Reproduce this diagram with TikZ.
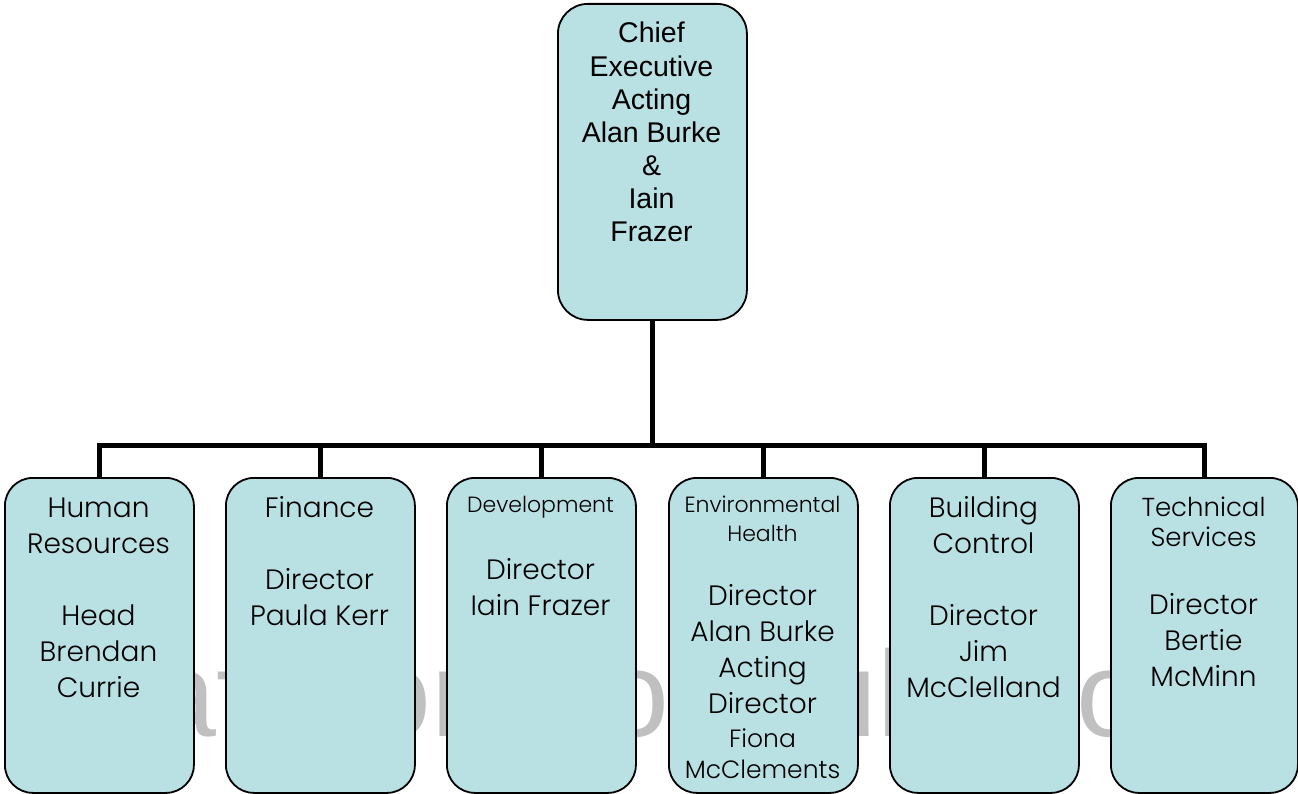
\documentclass[tikz,border=0pt]{standalone}
\usepackage{fontspec}
\setmainfont{Poppins Light}
\newfontfamily\arialf{Liberation Sans}
\definecolor{boxfill}{RGB}{185,224,227}
\definecolor{wmgrey}{RGB}{192,192,192}
\tikzset{
  orgbox/.style={draw=black,line width=1.8pt,fill=boxfill,rounded corners=28pt,
    minimum width=189pt,minimum height=315pt,inner sep=0pt,anchor=north west},
  conn/.style={draw=black,line width=5pt},
  tl/.style={anchor=base,inner sep=0pt},
  wm/.style={anchor=base west,inner sep=0pt,text=wmgrey,font=\arialf\fontsize{122}{122}\selectfont},
}
\newcommand{\bigf}{\fontsize{28}{34}\selectfont}
\newcommand{\smallf}{\fontsize{22}{29}\selectfont}
\newcommand{\medf}{\fontsize{26}{31}\selectfont}
\newcommand{\fionaf}{\fontsize{25}{31}\selectfont}
\newcommand{\ceof}{\arialf\fontsize{28.5}{34}\selectfont}
\begin{document}
\begin{tikzpicture}[x=1pt,y=-1pt]
\useasboundingbox (0,0) rectangle (1298,794);
% watermark fragments
\node[wm] (wm1) at (148,736) {at};
\node[wm] (wm2) at (363,736) {on};
\node[wm] (wm3) at (601,736) {o};
\node[wm] (wm4) at (809,736) {ul};
\node[wm] (wm5) at (1076,736) {o};
% boxes
\node[orgbox,minimum height=316pt,rounded corners=30pt] (ceo) at (557,3) {};
\node[orgbox] (hr)   at (4,477) {};
\node[orgbox] (fin)  at (225,477) {};
\node[orgbox] (dev)  at (446,477) {};
\node[orgbox] (env)  at (668,477) {};
\node[orgbox] (bc)   at (889,477) {};
\node[orgbox,minimum width=187pt] (tech) at (1110,477) {};
% connectors
\coordinate (bus) at ([yshift=-125pt]ceo.south);
\draw[conn] (ceo.south) -- (bus);
\draw[conn] (bus) -| (hr.north);
\draw[conn] (bus) -| (fin.north);
\draw[conn] (bus) -| (dev.north);
\draw[conn] (bus) -| (env.north);
\draw[conn] (bus) -| (bc.north);
\draw[conn] (bus) -| (tech.north);
% CEO text
\node[tl,font=\ceof] (c1) at (651.5,43) {Chief};
\node[tl,font=\ceof] (c2) at (651.5,77) {Executive};
\node[tl,font=\ceof] (c3) at (651.5,110) {Acting};
\node[tl,font=\ceof] (c4) at (651.5,143) {Alan Burke};
\node[tl,font=\ceof] (c5) at (651.5,176) {\&};
\node[tl,font=\ceof] (c6) at (651.5,209) {Iain};
\node[tl,font=\ceof] (c7) at (651.5,242) {Frazer};
% HR
\node[tl,font=\bigf] (h1) at (98.5,517) {Human};
\node[tl,font=\bigf] (h2) at (98.5,553) {Resources};
\node[tl,font=\bigf] (h3) at (98.5,625) {Head};
\node[tl,font=\bigf] (h4) at (98.5,661) {Brendan};
\node[tl,font=\bigf] (h5) at (98.5,697) {Currie};
% Finance
\node[tl,font=\bigf] (f1) at (319.5,517) {Finance};
\node[tl,font=\bigf] (f2) at (319.5,589) {Director};
\node[tl,font=\bigf] (f3) at (319.5,625) {Paula Kerr};
% Development
\node[tl,font=\smallf] (d1) at (540.5,512) {Development};
\node[tl,font=\bigf] (d2) at (540.5,579) {Director};
\node[tl,font=\bigf] (d3) at (540.5,615) {Iain Frazer};
% Environmental Health
\node[tl,font=\smallf] (e1) at (762.5,512) {Environmental};
\node[tl,font=\smallf] (e2) at (762.5,541) {Health};
\node[tl,font=\bigf] (e3) at (762.5,605) {Director};
\node[tl,font=\bigf] (e4) at (762.5,641) {Alan Burke};
\node[tl,font=\bigf] (e5) at (762.5,677) {Acting};
\node[tl,font=\bigf] (e6) at (762.5,713) {Director};
\node[tl,font=\fionaf] (e7) at (762.5,747) {Fiona};
\node[tl,font=\fionaf] (e8) at (762.5,778) {McClements};
% Building Control
\node[tl,font=\bigf] (b1) at (983.5,517) {Building};
\node[tl,font=\bigf] (b2) at (983.5,553) {Control};
\node[tl,font=\bigf] (b3) at (983.5,625) {Director};
\node[tl,font=\bigf] (b4) at (983.5,661) {Jim};
\node[tl,font=\bigf] (b5) at (983.5,697) {McClelland};
% Technical Services
\node[tl,font=\medf] (t1) at (1203.5,516) {Technical};
\node[tl,font=\medf] (t2) at (1203.5,546) {Services};
\node[tl,font=\bigf] (t3) at (1203.5,614) {Director};
\node[tl,font=\bigf] (t4) at (1203.5,650) {Bertie};
\node[tl,font=\bigf] (t5) at (1203.5,686) {McMinn};
\end{tikzpicture}
\end{document}
